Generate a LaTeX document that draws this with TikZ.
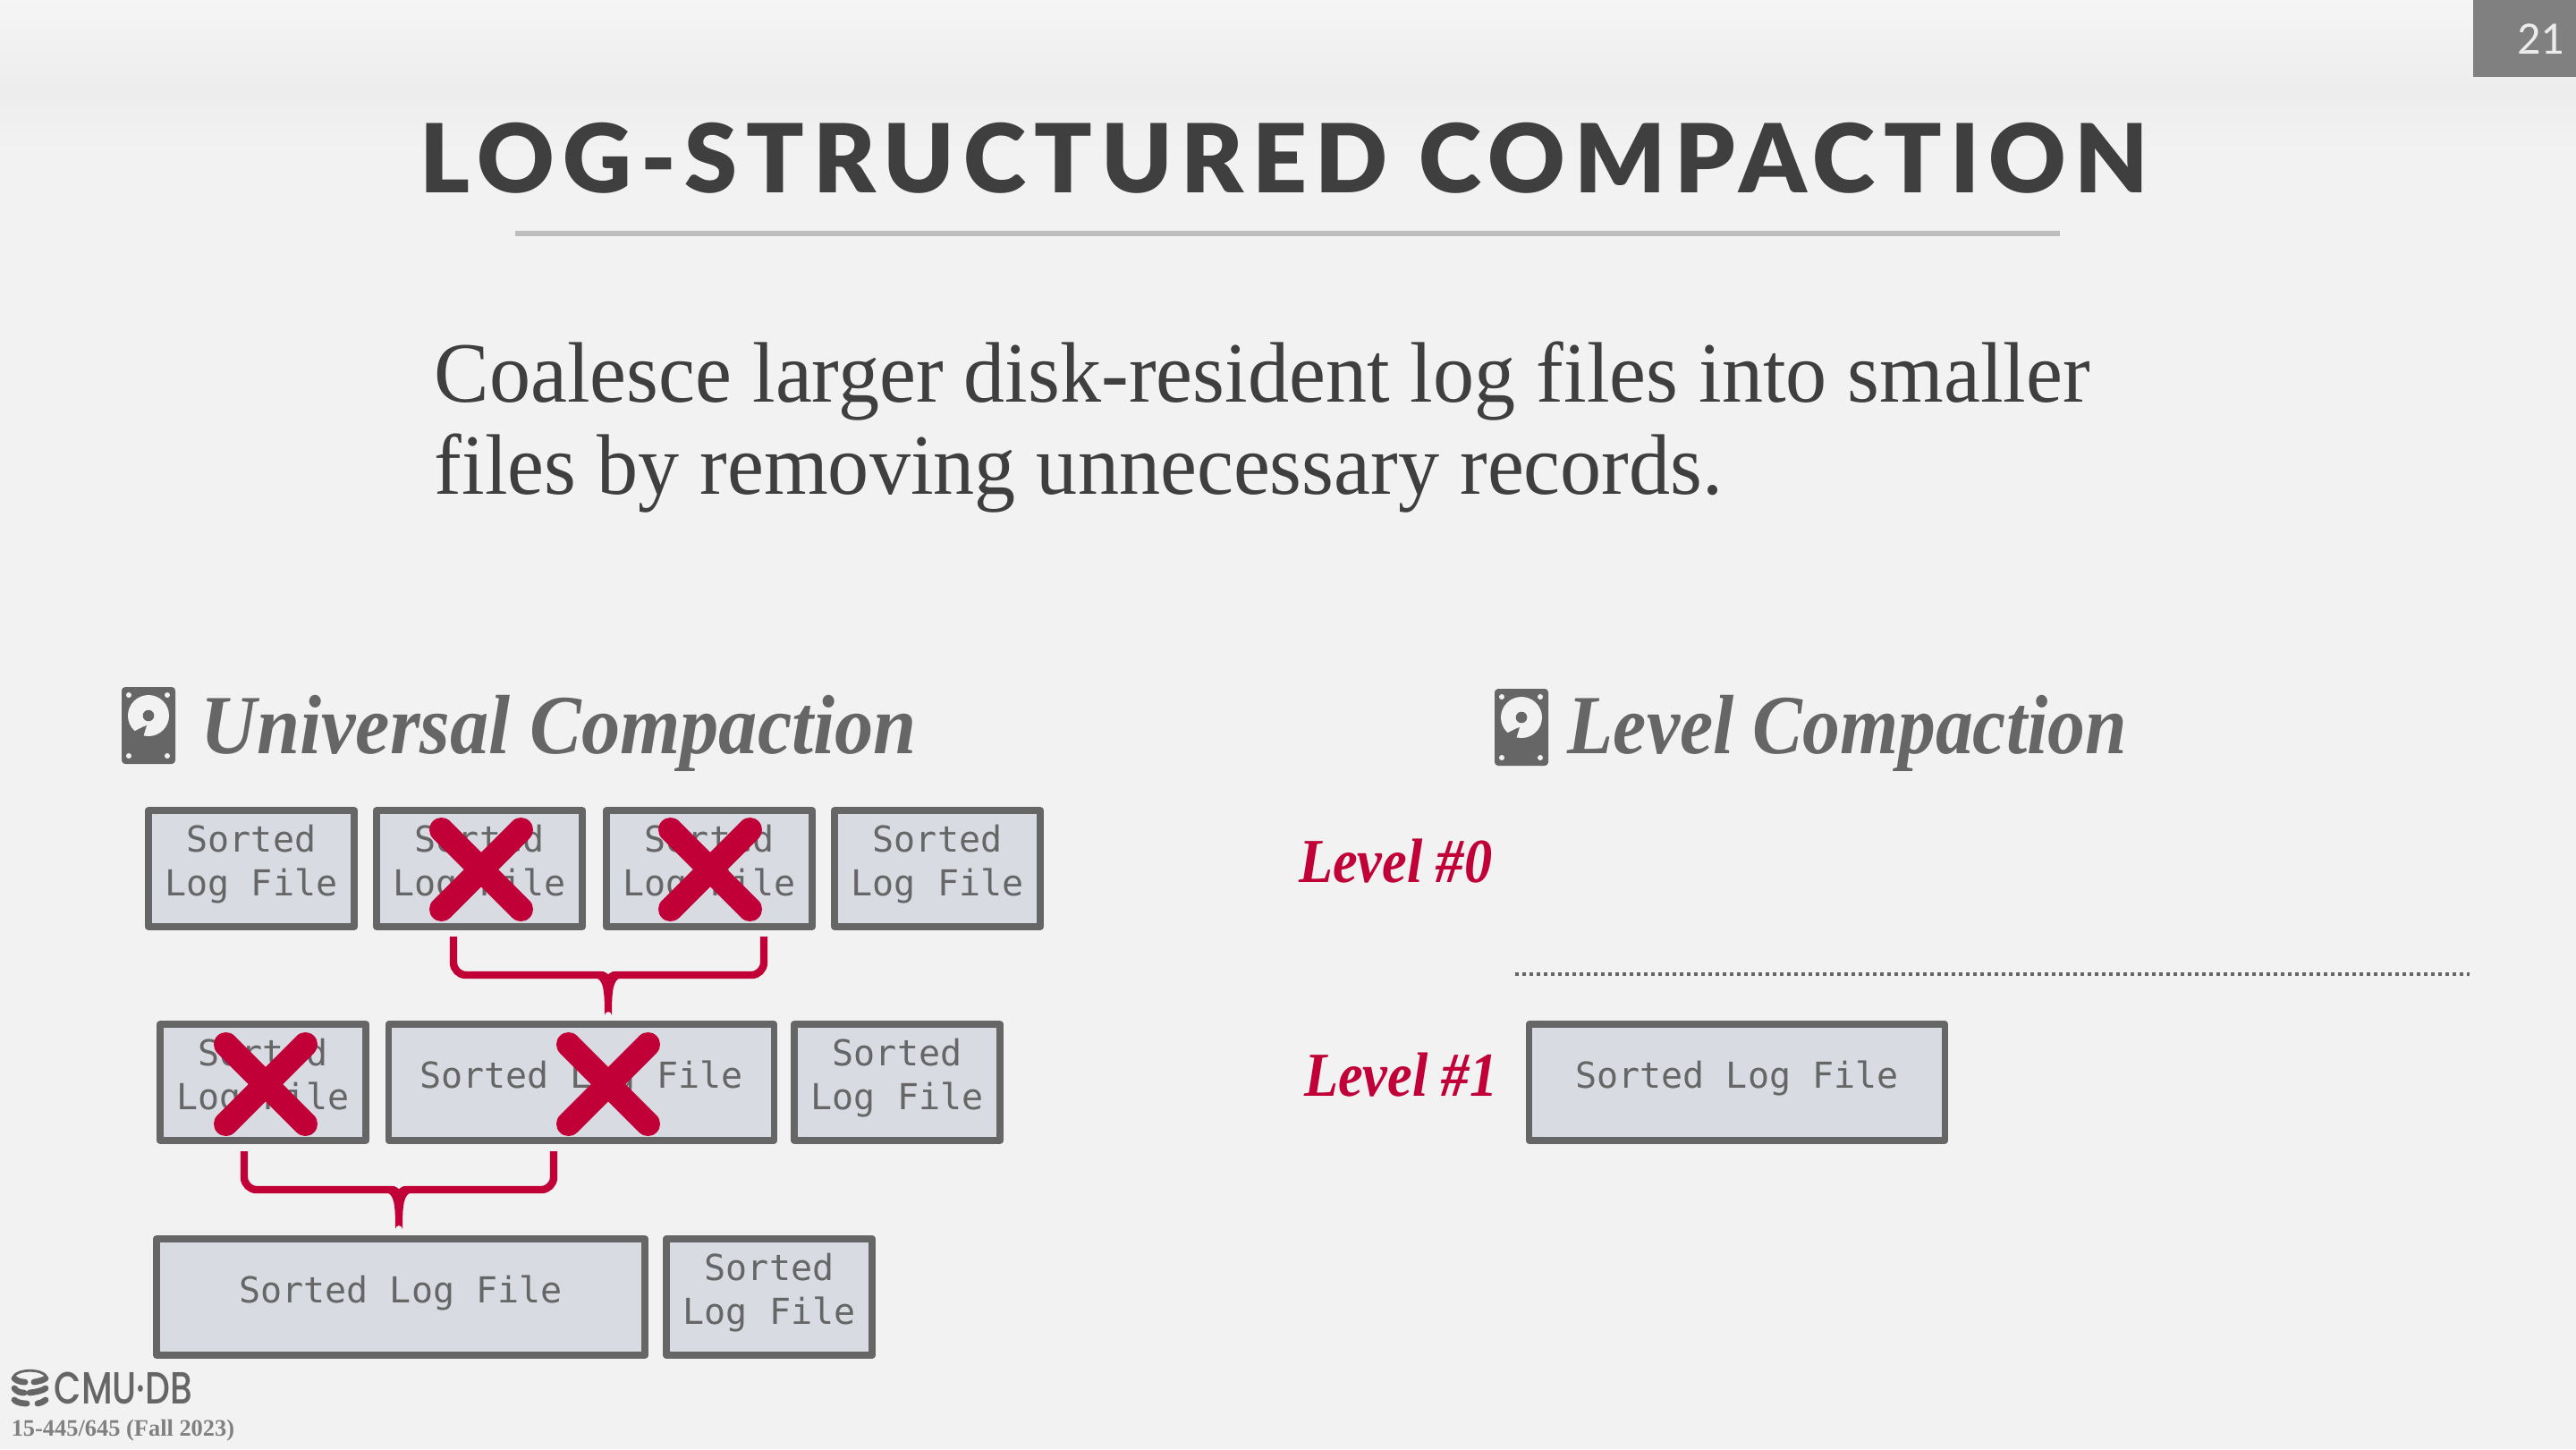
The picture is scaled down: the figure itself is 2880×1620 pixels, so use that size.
\documentclass[tikz,border=0pt]{standalone}
\usepackage{fontspec}
\usetikzlibrary{calc,shapes.misc}
\setmainfont{Liberation Serif}
\newfontfamily\titlefont[LetterSpace=9.1]{Lato Black}
\newfontfamily\bodyfont[FakeStretch=0.96]{Liberation Serif}
\newfontfamily\headfont[FakeStretch=0.92]{Liberation Serif}
\newfontfamily\levelfont[FakeStretch=0.89]{Liberation Serif}
\newfontfamily\monofont{DejaVu Sans Mono}
\newfontfamily\pagefont{Carlito}
\newfontfamily\logofont[FakeStretch=0.78]{Poppins Medium}
\definecolor{pagebg}{HTML}{F2F2F2}
\definecolor{ink}{HTML}{666666}
\definecolor{darkink}{HTML}{3F3F3F}
\definecolor{crimson}{HTML}{C00037}
\definecolor{boxfill}{HTML}{D8DBE2}
\newcommand{\bracestem}[2]{%
  \fill[crimson] ($(#1)+(-15,3)$) .. controls ($(#1)+(-5,4)$) and ($(#2)+(-4,-30)$) .. ($(#2)+(-4,-4)$)
    arc[start angle=180,end angle=360,radius=4] .. controls ($(#2)+(4,-30)$) and ($(#1)+(5,4)$) .. ($(#1)+(15,3)$) -- cycle;
  \fill[pagebg] ($(#1)+(-9,-5)$) .. controls ($(#1)+(-3,-4)$) and ($(#1)+(-2,-2)$) .. ($(#1)+(0,-1)$)
    .. controls ($(#1)+(2,-2)$) and ($(#1)+(3,-4)$) .. ($(#1)+(9,-5)$) -- cycle;}
\tikzset{
  logbox/.style={draw=ink,line width=1.9pt,line join=round,fill=boxfill,text=ink,inner sep=0pt,
    minimum height=32.4pt,align=center,text depth=4.5pt,font=\monofont\fontsize{10}{12.25}\selectfont},
  narrowbox/.style={logbox,minimum width=57.6pt},
  xmark/.style={cross out,draw=crimson,line width=6.8pt,line cap=round,inner sep=0pt,outer sep=0pt,minimum size=22.2pt},
  bracket/.style={draw=crimson,line width=2.1pt,rounded corners=3.5pt},
  heading/.style={anchor=base west,text=ink,font=\headfont\fontsize{23.5}{28}\selectfont\bfseries\itshape},
  levellabel/.style={anchor=base east,text=crimson,font=\levelfont\fontsize{17.5}{21}\selectfont\bfseries\itshape},
  logoband/.style={ink,line width=1.7pt,line cap=round},
  disk/.pic={
    \fill[ink,rounded corners=1pt] (0,0) rectangle (60,86);
    \fill[pagebg] (30,32) circle[radius=23];
    \fill[ink] (30,32) circle[radius=6.3];
    \fill[ink] (13,50) -- (24,44.5) -- (28,43) -- (24,56) -- (20,60) -- (10,60) -- cycle;
    \foreach \hx/\hy in {8/9,51/9,8/77,51/77} \fill[pagebg] (\hx,\hy) circle[radius=3];
  }
}
\begin{document}
\begin{tikzpicture}[x=.25pt,y=-.25pt]
  \useasboundingbox (0,0) rectangle (2880,1620);
  % ------ slide background -----------------------------
  \fill[pagebg] (0,0) rectangle (2880,1620);
  \shade[top color=white!96!black,bottom color=white!93!black] (0,0) rectangle (2880,100);
  \shade[top color=white!93!black,bottom color=pagebg] (0,100) rectangle (2880,170);
  \fill[white!50!black] (2765,0) rectangle (2880,86);
  \node[anchor=base east,inner sep=0pt,text=white!92!black,font=\pagefont\fontsize{13}{15}\selectfont] (pagenum) at (2868,60) {21};
  \node[anchor=base,inner sep=0pt,text=darkink,font=\titlefont\fontsize{26.6}{32}\selectfont] (title) at (1436,215) {LOG-STRUCTURED COMPACTION};
  \fill[white!74!black] (576,258) rectangle (2303,264);
  \node[anchor=base west,inner sep=0pt,text=darkink,align=left,font=\bodyfont\fontsize{24}{25.75}\selectfont] (intro) at (485,552)
    {Coalesce larger disk-resident log files into smaller\\files by removing unnecessary records.};
  % ------ universal compaction -----------------------------
  \pic at (136,768) {disk};
  \node[heading,inner sep=0pt] (univ) at (224,842) {Universal Compaction};
  \node[narrowbox] (u1) at (281,971) {Sorted\\Log File};
  \node[narrowbox] (u2) at (536,971) {Sorted\\Log File};
  \node[narrowbox] (u3) at (793,971) {Sorted\\Log File};
  \node[narrowbox] (u4) at (1048,971) {Sorted\\Log File};
  \node[narrowbox] (m1) at (294,1210) {Sorted\\Log File};
  \node[logbox,minimum width=107.8pt] (m2) at (650,1210) {Sorted Log File};
  \node[narrowbox] (m3) at (1003,1210) {Sorted\\Log File};
  \node[logbox,minimum width=136.6pt] (b1) at (448,1450) {Sorted Log File};
  \node[narrowbox] (b2) at (860,1450) {Sorted\\Log File};
  \node[xmark] (x1) at (538,972) {};
  \node[xmark] (x2) at (794,972) {};
  \node[xmark] (x3) at (297,1212) {};
  \node[xmark] (x4) at (680,1212) {};
  % brackets
  \coordinate (ta) at (507,1047); \coordinate (tm) at (680,1090);
  \coordinate (tb) at (854,1047); \coordinate (tt) at (680,1139);
  \draw[bracket] (ta) |- (tm) -| (tb);
  \bracestem{tm}{tt}
  \coordinate (ma) at (273,1287); \coordinate (mm) at (446,1330);
  \coordinate (mb) at (619,1287); \coordinate (mt) at (446,1378);
  \draw[bracket] (ma) |- (mm) -| (mb);
  \bracestem{mm}{mt}
  % ------ level compaction -----------------------------
  \pic at (1671,770) {disk};
  \node[heading,font=\levelfont\fontsize{23.5}{28}\selectfont\bfseries\itshape,inner sep=0pt] (levelc) at (1752,842) {Level Compaction};
  \node[levellabel,inner sep=0pt] (lv0) at (1669,986) {Level \#0};
  \node[levellabel,inner sep=0pt] (lv1) at (1675,1225) {Level \#1};
  \coordinate (sepa) at (1694,1089); \coordinate (sepb) at (2761,1089);
  \draw[ink,line width=1pt,dash pattern=on 1pt off 1pt] (sepa) -- (sepb);
  \node[logbox,minimum width=116.2pt] (l1) at (1942,1210) {Sorted Log File};
  % ------ footer logo -----------------------------
  \draw[ink,line width=.7pt] (15,1539) .. controls (20,1530) and (47,1530) .. (52,1539);
  \draw[logoband] (16,1541) .. controls (19,1544) and (24,1545) .. (28,1545);
  \draw[logoband] (38,1545) .. controls (44,1544) and (48,1543) .. (51,1541);
  \draw[logoband] (16,1552) .. controls (19,1556) and (23,1557) .. (27,1557);
  \draw[logoband] (33,1557) .. controls (40,1556) and (47,1555) .. (51,1552);
  \draw[logoband] (16,1565) .. controls (19,1568) and (25,1569) .. (30,1569);
  \draw[logoband] (42,1569) .. controls (46,1568) and (49,1567) .. (51,1565);
  \node[anchor=base west,inner sep=0pt,text=ink,font=\logofont\fontsize{12.6}{15}\selectfont] (logo) at (60,1569) {CMU·DB};
  \node[anchor=base west,inner sep=0pt,text=white!50!black,font=\fontsize{6.6}{8}\selectfont\bfseries] (course) at (12,1605) {15-445/645 (Fall 2023)};
\end{tikzpicture}
\end{document}
